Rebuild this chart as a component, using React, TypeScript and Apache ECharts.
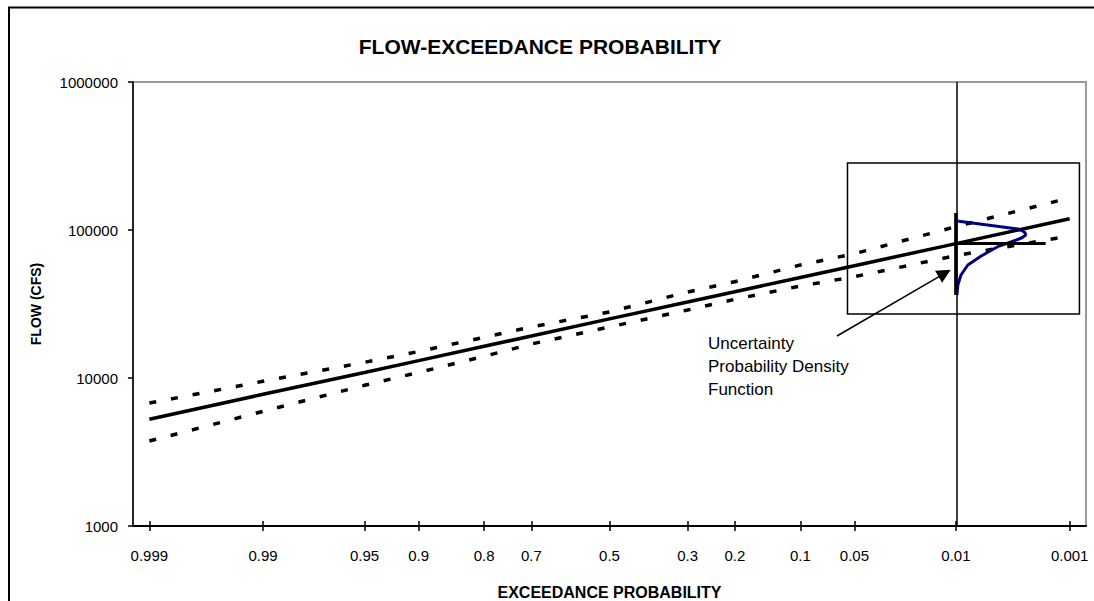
import React, { useEffect, useRef } from "react";
import * as echarts from "echarts";

// ---------- data ----------
const probTickLabels = ["0.999", "0.99", "0.95", "0.9", "0.8", "0.7", "0.5", "0.3", "0.2", "0.1", "0.05", "0.01", "0.001"];
const exceedance = [0.999, 0.99, 0.95, 0.9, 0.8, 0.7, 0.5, 0.3, 0.2, 0.1, 0.05, 0.01, 0.001];
const meanFlow = [5270, 7760, 10900, 13100, 16400, 19200, 25100, 32600, 38300, 47800, 57400, 80900, 119000];
const upperFlow = [6770, 9500, 12770, 15110, 18840, 22120, 27920, 38120, 44740, 58000, 69170, 105400, 164800];
const lowerFlow = [3750, 5950, 8930, 10900, 14020, 16970, 22120, 28810, 34020, 41840, 48360, 67140, 91230];

// uncertainty PDF drawn sideways at the 0.01 quantile
const pdfProb = 0.01;
const pdfFlow = [115000, 101600, 96900, 92500, 88300, 82960, 77970, 73270, 66730, 58000, 49640, 42500, 36380];
const pdfDensity = [0.007, 0.42, 0.46, 0.47, 0.44, 0.37, 0.29, 0.24, 0.17, 0.08, 0.034, 0.013, 0.007];
const pdfBarFlow = [130300, 36380];
const quantileFlow = 80900;
const quantileLineEndProb = 0.0017;

// annotation box and arrow
const boxProb = [0.055, 0.0008];
const boxFlow = [27060, 283600];
const arrowProb = [0.0633, 0.0122];
const arrowFlow = [19220, 51000];

const titleText = "FLOW-EXCEEDANCE PROBABILITY";
const xName = "EXCEEDANCE PROBABILITY";
const yName = "FLOW (CFS)";
const noteText = "Uncertainty\nProbability Density\nFunction";

// ---------- normal probability scale ----------
function normInv(p: number): number {
  const a = [-3.969683028665376e1, 2.209460984245205e2, -2.759285104469687e2, 1.38357751867269e2, -3.066479806614716e1, 2.506628277459239];
  const b = [-5.447609879822406e1, 1.615858368580409e2, -1.556989798598866e2, 6.680131188771972e1, -1.328068155288572e1];
  const c = [-7.784894002430293e-3, -3.223964580411365e-1, -2.400758277161838, -2.549732539343734, 4.374664141464968, 2.938163982698783];
  const d = [7.784695709041462e-3, 3.224671290700398e-1, 2.445134137142996, 3.754408661907416];
  const pl = 0.02425;
  const ph = 1 - pl;
  if (p < pl) {
    const q = Math.sqrt(-2 * Math.log(p));
    return (((((c[0] * q + c[1]) * q + c[2]) * q + c[3]) * q + c[4]) * q + c[5]) / ((((d[0] * q + d[1]) * q + d[2]) * q + d[3]) * q + 1);
  }
  if (p <= ph) {
    const q = p - 0.5;
    const r = q * q;
    return ((((((a[0] * r + a[1]) * r + a[2]) * r + a[3]) * r + a[4]) * r + a[5]) * q) / (((((b[0] * r + b[1]) * r + b[2]) * r + b[3]) * r + b[4]) * r + 1);
  }
  const q = Math.sqrt(-2 * Math.log(1 - p));
  return -(((((c[0] * q + c[1]) * q + c[2]) * q + c[3]) * q + c[4]) * q + c[5]) / ((((d[0] * q + d[1]) * q + d[2]) * q + d[3]) * q + 1);
}
const zOf = (p: number) => normInv(1 - p);
const zTicks = exceedance.map(zOf);

const FONT = '"Liberation Sans", Arial, sans-serif';

export default function App() {
  const ref = useRef<HTMLDivElement>(null);
  useEffect(() => {
    if (!ref.current) return;
    const chart = echarts.init(ref.current, undefined, { renderer: "svg" });
    const zQ = zOf(pdfProb);
    const line = (vals: number[]) => exceedance.map((p, i) => [zOf(p), vals[i]]);

    const option: any = {
      animation: false,
      backgroundColor: "#fff",
      textStyle: { fontFamily: FONT },
      grid: {
        left: 133,
        top: 82,
        right: 8,
        bottom: 75,
        show: true,
        borderColor: "#9a9a9a",
        borderWidth: 2,
        backgroundColor: "transparent",
        containLabel: false,
        outerBoundsMode: "none",
      },
      xAxis: [
        {
          type: "value",
          min: -3.2,
          max: 3.2,
          position: "bottom",
          axisLine: { show: true, onZero: false, lineStyle: { color: "#000", width: 2 } },
          axisTick: { show: true, inside: false, length: 5, customValues: zTicks, lineStyle: { color: "#000", width: 1.5 } },
          axisLabel: {
            show: true,
            customValues: zTicks,
            margin: 22,
            color: "#000",
            fontSize: 15,
            fontFamily: FONT,
            formatter: (v: number) => {
              const i = zTicks.findIndex((z) => Math.abs(z - v) < 1e-6);
              return i >= 0 ? probTickLabels[i] : "";
            },
          },
          splitLine: { show: false },
          name: xName,
          nameLocation: "middle",
          nameGap: 58,
          nameTextStyle: { color: "#000", fontSize: 16, fontWeight: "bold", fontFamily: FONT },
        },
        {
          type: "value",
          min: -3.2,
          max: 3.2,
          position: "bottom",
          axisLine: { show: false, onZero: false },
          axisTick: { show: true, inside: true, length: 5, customValues: zTicks, lineStyle: { color: "#000", width: 1.5 } },
          axisLabel: { show: false },
          splitLine: { show: false },
        },
      ],
      yAxis: {
        type: "log",
        logBase: 10,
        min: 1000,
        max: 1000000,
        axisLine: { show: true, onZero: false, lineStyle: { color: "#000", width: 1.5 } },
        axisTick: { show: true, inside: false, length: 5, lineStyle: { color: "#000", width: 1.5 } },
        axisLabel: {
          color: "#000",
          fontSize: 15,
          margin: 15,
          fontFamily: FONT,
          formatter: (v: number) => String(Math.round(v)),
        },
        splitLine: { show: false },
        name: yName,
        nameLocation: "middle",
        nameRotate: 90,
        nameGap: 90,
        nameTextStyle: { color: "#000", fontSize: 14, fontWeight: "bold", fontFamily: FONT },
      },
      graphic: [
        {
          type: "rect",
          silent: true,
          shape: { x: 9, y: 7.5, width: 1300, height: 800 },
          style: { fill: "none", stroke: "#000", lineWidth: 2 },
          z: 100,
        },
        {
          type: "text",
          x: 540,
          y: 46,
          style: { text: titleText, font: `bold 21px ${FONT}`, fill: "#000", textAlign: "center", textVerticalAlign: "middle" },
        },
        {
          type: "text",
          x: 708,
          y: 332,
          style: { text: noteText, font: `17px ${FONT}`, fill: "#000", lineHeight: 23 },
        },
      ],
      series: [
        {
          name: "lower",
          type: "line",
          data: line(lowerFlow),
          symbol: "none",
          lineStyle: { color: "#000", width: 3.5, type: [7, 15] },
          z: 3,
        },
        {
          name: "upper",
          type: "line",
          data: line(upperFlow),
          symbol: "none",
          lineStyle: { color: "#000", width: 3.5, type: [7, 15] },
          z: 3,
        },
        {
          name: "mean",
          type: "line",
          data: line(meanFlow),
          symbol: "none",
          lineStyle: { color: "#000", width: 3.5 },
          z: 4,
          markLine: {
            silent: true,
            symbol: ["none", "none"],
            label: { show: false },
            lineStyle: { color: "#000", width: 1.5, type: "solid" },
            data: [{ xAxis: zQ }],
          },
          markArea: {
            silent: true,
            itemStyle: { color: "transparent", borderColor: "#000", borderWidth: 1.5 },
            data: [[{ coord: [zOf(boxProb[0]), boxFlow[0]] }, { coord: [zOf(boxProb[1]), boxFlow[1]] }]],
          },
        },
        {
          name: "pdf",
          type: "line",
          data: pdfFlow.map((f, i) => [zQ + pdfDensity[i], f]),
          symbol: "none",
          lineStyle: { color: "#000080", width: 3 },
          z: 5,
        },
        {
          name: "pdfBar",
          type: "line",
          data: pdfBarFlow.map((f) => [zQ, f]),
          symbol: "none",
          lineStyle: { color: "#000", width: 3.5 },
          z: 6,
        },
        {
          name: "quantile",
          type: "line",
          data: [[zQ, quantileFlow], [zOf(quantileLineEndProb), quantileFlow]],
          symbol: "none",
          lineStyle: { color: "#000", width: 3 },
          z: 6,
        },
        {
          name: "arrow",
          type: "line",
          data: [],
          symbol: "none",
          z: 7,
          markLine: {
            silent: true,
            symbol: ["none", "triangle"],
            symbolSize: 14,
            label: { show: false },
            lineStyle: { color: "#000", width: 1.5, type: "solid" },
            itemStyle: { color: "#000" },
            data: [[{ coord: [zOf(arrowProb[0]), arrowFlow[0]] }, { coord: [zOf(arrowProb[1]), arrowFlow[1]] }]],
          },
        },
      ],
    };
    chart.setOption(option);
    return () => chart.dispose();
  }, []);
  return <div ref={ref} style={{ position: "fixed", left: 0, top: 0, width: 1094, height: 601 }} />;
}
